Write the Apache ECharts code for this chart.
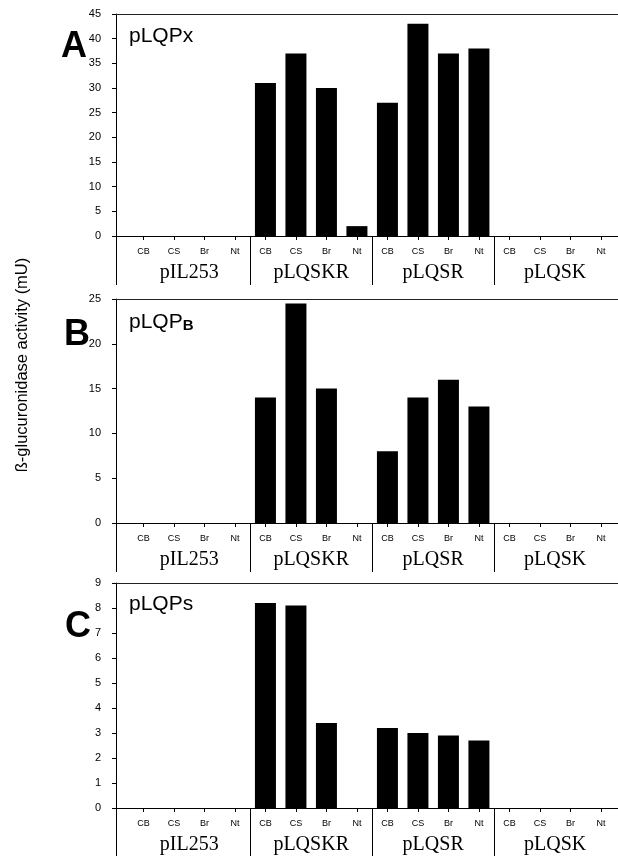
<!DOCTYPE html>
<html>
<head>
<meta charset="utf-8">
<script src="https://cdn.jsdelivr.net/npm/echarts@6/dist/echarts.min.js"></script>
<style>
  html, body { margin: 0; padding: 0; background: #fff; }
  #container { width: 618px; height: 856px; }
</style>
</head>
<body>
<div id="container"></div>
<script>
// categories
let tissues = ['CB', 'CS', 'Br', 'Nt'];
let groups = ['pIL253', 'pLQSKR', 'pLQSR', 'pLQSK'];
// activity per panel, 16 bars: 4 plasmids x 4 tissues
let valuesA = [0, 0, 0, 0, 31, 37, 30, 2, 27, 43, 37, 38, 0, 0, 0, 0];
let valuesB = [0, 0, 0, 0, 14, 24.5, 15, 0, 8, 14, 16, 13, 0, 0, 0, 0];
let valuesC = [0, 0, 0, 0, 8.2, 8.1, 3.4, 0, 3.2, 3.0, 2.9, 2.7, 0, 0, 0, 0];
// y axis ranges
let yMaxes = [45, 25, 9];
let yIntervals = [5, 5, 1];

let dom = document.getElementById("container");
let myChart = echarts.init(dom);

let xMin = -0.9, xMax = 15.56;
let tissueTicks = [];
for (let i = 0; i < groups.length * tissues.length; i++) tissueTicks.push(i);
let groupCenters = groups.map((g, i) => i * 4 + 1.5);
let separators = [xMin, 3.5, 7.5, 11.5];

let panels = [
    {values: valuesA, top: 14, height: 222},
    {values: valuesB, top: 299, height: 224},
    {values: valuesC, top: 583, height: 225}
];

let grid = [], xAxis = [], yAxis = [], series = [];
panels.forEach(function (p, k) {
    grid.push({left: 116, right: 0, top: p.top, height: p.height});
    // tissue ticks and labels
    xAxis.push({
        type: 'value', gridIndex: k, min: xMin, max: xMax,
        splitLine: {show: false},
        axisLine: {lineStyle: {color: '#000', width: 1}},
        axisTick: {customValues: tissueTicks, length: 4, lineStyle: {color: '#000'}},
        axisLabel: {
            customValues: tissueTicks, margin: 11, fontSize: 9, color: '#000',
            fontFamily: 'Liberation Sans, Arial, sans-serif',
            formatter: function (v) { return tissues[Math.round(v) % 4]; }
        }
    });
    // plasmid group labels and separators
    xAxis.push({
        type: 'value', gridIndex: k, min: xMin, max: xMax, position: 'bottom',
        splitLine: {show: false},
        axisLine: {show: false},
        axisTick: {customValues: separators, length: 49, lineStyle: {color: '#000'}},
        axisLabel: {
            customValues: groupCenters, margin: 27, fontSize: 20, color: '#000',
            fontFamily: 'Liberation Serif, Times New Roman, serif',
            formatter: function (v) { return groups[Math.round((v - 1.5) / 4)]; }
        }
    });
    // top border
    xAxis.push({
        type: 'value', gridIndex: k, min: xMin, max: xMax, position: 'top',
        splitLine: {show: false},
        axisLine: {lineStyle: {color: '#222', width: 1}},
        axisTick: {show: false},
        axisLabel: {show: false}
    });
    yAxis.push({
        type: 'value', gridIndex: k, min: 0, max: yMaxes[k], interval: yIntervals[k],
        splitLine: {show: false},
        axisLine: {show: true, onZero: false, lineStyle: {color: '#000', width: 1}},
        axisTick: {show: true, length: 4, lineStyle: {color: '#000'}},
        axisLabel: {
            margin: 15, fontSize: 11, color: '#000',
            fontFamily: 'Liberation Sans, Arial, sans-serif'
        }
    });
    series.push({
        type: 'bar',
        xAxisIndex: k * 3,
        yAxisIndex: k,
        barWidth: 21,
        itemStyle: {color: '#000'},
        data: p.values.map(function (v, i) { return [i, v]; })
    });
});

let letterStyle = {fontSize: 36, fontWeight: 'bold', color: '#000', fontFamily: 'Liberation Sans, Arial'};
let subStyle = {fontSize: 21, fontWeight: 'normal', color: '#000', fontFamily: 'Liberation Sans, Arial'};

let option = {
    animation: false,
    title: [
        {text: 'A', left: 56, top: 24, textStyle: letterStyle},
        {text: 'B', left: 59, top: 312, textStyle: letterStyle},
        {text: 'C', left: 60, top: 604, textStyle: letterStyle},
        {text: 'pLQPx', left: 124, top: 21, textStyle: subStyle},
        {
            text: '{a|pLQP}{b|B}', left: 124, top: 307,
            textStyle: {
                fontWeight: 'normal',
                rich: {
                    a: {fontSize: 21, fontWeight: 'normal', color: '#000', fontFamily: 'Liberation Sans, Arial'},
                    b: {fontSize: 15, fontWeight: 'bold', color: '#000', fontFamily: 'Liberation Sans, Arial', verticalAlign: 'bottom', padding: [6, 0, 0, 0]}
                }
            }
        },
        {text: 'pLQPs', left: 124, top: 589, textStyle: subStyle}
    ],
    graphic: [
        {
            type: 'text', x: 22, y: 365, rotation: Math.PI / 2,
            style: {
                text: 'ß-glucuronidase activity (mU)', fontSize: 16.5,
                fontFamily: 'Liberation Sans, Arial, sans-serif', fill: '#000',
                align: 'center', verticalAlign: 'middle'
            }
        }
    ],
    grid: grid,
    xAxis: xAxis,
    yAxis: yAxis,
    series: series
};
myChart.setOption(option, true);

window.onresize = function () {
    myChart.resize();
};
</script>
</body>
</html>
